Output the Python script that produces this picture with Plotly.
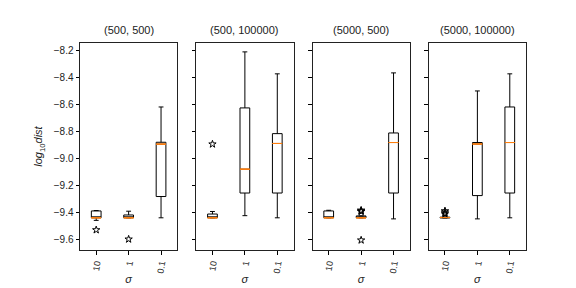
import plotly.graph_objects as go
from plotly.subplots import make_subplots

titles = ["(500, 500)", "(500, 100000)", "(5000, 500)", "(5000, 100000)"]
categories = ["10", "1", "0.1"]
positions = [1, 2, 3]

lowerfence = [[-9.458, -9.439, -9.439],
              [-9.439, -9.423, -9.439],
              [-9.439, -9.439, -9.447],
              [-9.440, -9.447, -9.439]]
q1 = [[-9.439, -9.439, -9.281],
      [-9.439, -9.255, -9.255],
      [-9.439, -9.439, -9.255],
      [-9.440, -9.274, -9.255]]
median = [[-9.439, -9.439, -8.892],
          [-9.439, -9.078, -8.887],
          [-9.439, -9.439, -8.880],
          [-9.437, -8.891, -8.880]]
q3 = [[-9.388, -9.418, -8.878],
      [-9.411, -8.623, -8.814],
      [-9.388, -9.425, -8.809],
      [-9.434, -8.880, -8.616]]
upperfence = [[-9.385, -9.390, -8.616],
              [-9.392, -8.207, -8.370],
              [-9.383, -9.425, -8.363],
              [-9.421, -8.497, -8.370]]

outlier_panel = [1, 1, 2, 3, 3, 3, 3, 4, 4, 4]
outlier_pos = [1, 2, 1, 2, 2, 2, 2, 1, 1, 1]
outlier_val = [-9.529, -9.598, -8.892, -9.383, -9.388, -9.393, -9.605, -9.388, -9.398, -9.410]

FONT = "Arial, Liberation Sans, sans-serif"

fig = make_subplots(rows=1, cols=4, shared_yaxes=True,
                    horizontal_spacing=19 / 446, subplot_titles=titles)

for p in range(4):
    col = p + 1
    fig.add_trace(go.Box(
        x=positions, q1=q1[p], median=median[p], q3=q3[p],
        lowerfence=lowerfence[p], upperfence=upperfence[p],
        width=0.3, whiskerwidth=0.5, boxpoints=False,
        line=dict(color="black", width=1), fillcolor="rgba(255,255,255,0)",
        showlegend=False, hoverinfo="skip"), row=1, col=col)
    fig.add_trace(go.Box(
        x=positions, q1=median[p], median=median[p], q3=median[p],
        lowerfence=median[p], upperfence=median[p],
        width=0.3, whiskerwidth=0, boxpoints=False,
        line=dict(color="#ff7f0e", width=1), fillcolor="rgba(255,255,255,0)",
        showlegend=False, hoverinfo="skip"), row=1, col=col)
    xs = [outlier_pos[i] for i in range(len(outlier_val)) if outlier_panel[i] == col]
    ys = [outlier_val[i] for i in range(len(outlier_val)) if outlier_panel[i] == col]
    fig.add_trace(go.Scatter(
        x=xs, y=ys, mode="markers",
        marker=dict(symbol="star-open", size=5.5, color="black", line=dict(width=1)),
        showlegend=False, hoverinfo="skip"), row=1, col=col)

fig.update_xaxes(range=[0.5, 3.5], tickvals=positions, ticktext=categories,
                 tickangle=-80, ticks="outside", ticklen=3.5, tickcolor="black",
                 showline=True, mirror=True, linecolor="#222", linewidth=1,
                 showgrid=False, zeroline=False,
                 tickfont=dict(size=9, color="#222"),
                 title=dict(text="<i>σ</i>", font=dict(size=11, color="#222"), standoff=2))
fig.update_yaxes(range=[-9.678, -8.141], tickvals=[-9.6, -9.4, -9.2, -9.0, -8.8, -8.6, -8.4, -8.2],
                 tickformat=".1f", ticks="outside", ticklen=3.5, tickcolor="black",
                 showline=True, mirror=True, linecolor="#222", linewidth=1,
                 showgrid=False, zeroline=False,
                 tickfont=dict(size=10, color="#222"))
fig.update_yaxes(title=dict(text="<i>log</i><sub>10</sub><i>dist</i>",
                            font=dict(size=11, color="#222"), standoff=8), row=1, col=1)

for ann in fig.layout.annotations:
    ann.font = dict(size=11, color="#222", family=FONT)
    ann.yshift = 5

fig.update_layout(width=576, height=288, margin=dict(l=72, r=58, t=35, b=36),
                  plot_bgcolor="white", paper_bgcolor="white",
                  font=dict(family=FONT, color="#222"), boxmode="overlay")

fig.write_html("out.html")
